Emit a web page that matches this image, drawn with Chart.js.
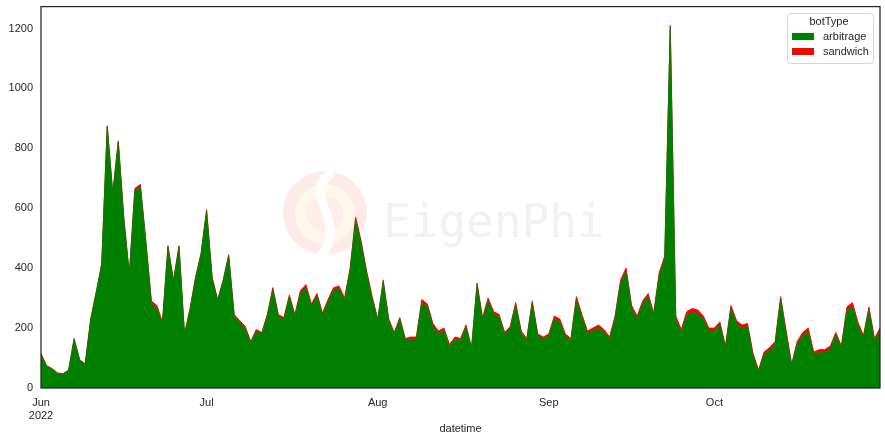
<!DOCTYPE html>
<html>
<head>
<meta charset="utf-8">
<script src="https://cdn.jsdelivr.net/npm/chart.js@4/dist/chart.umd.min.js"></script>
<style>
  html, body { margin: 0; padding: 0; background: #ffffff; }
  #wrap { width: 885px; height: 440px; }
</style>
</head>
<body>
<div id="wrap"><canvas id="c" width="885" height="440"></canvas></div>
<script>
// ---- data ----
const startDate = '2022-06-01';
const dayCount = 153; // Jun 1 .. Oct 31 2022
const monthTickLabels = { '2022-06-01': ['Jun', '2022'], '2022-07-01': 'Jul', '2022-08-01': 'Aug', '2022-09-01': 'Sep', '2022-10-01': 'Oct' };
const yTicks = [0, 200, 400, 600, 800, 1000, 1200];

const arbitrage = [
  // Jun
  113,73,63,48,46,58,162,93,78,227,317,411,870,646,820,565,376,657,672,484,282,265,212,469,355,469,177,261,365,445,
  // Jul
  590,366,291,355,440,239,219,197,149,189,180,239,327,239,229,302,239,315,335,272,307,244,287,327,330,292,390,558,480,382,297,
  // Aug
  224,352,224,179,229,159,162,162,283,270,207,180,192,139,162,157,202,129,340,227,290,245,237,179,197,275,182,159,282,172,164,
  // Sep
  174,230,220,172,157,293,235,182,190,200,187,162,230,348,388,265,230,280,305,242,375,430,1198,228,185,243,251,248,230,190,
  // Oct
  190,210,132,263,215,198,205,107,54,112,125,145,293,180,74,145,173,188,112,118,118,130,177,132,256,271,210,167,258,157,190
];
const sandwich = [
  2,2,2,2,2,2,3,2,2,3,3,4,5,4,5,5,4,8,8,6,8,10,8,6,5,6,3,4,5,5,
  5,4,4,5,5,6,6,8,6,6,5,6,8,6,6,8,6,10,10,8,8,6,8,8,10,8,10,12,10,8,8,
  6,8,6,6,6,6,8,8,12,10,8,10,8,6,8,8,8,6,10,8,10,10,8,6,8,10,8,6,8,8,6,
  6,10,10,8,8,12,10,8,10,10,8,8,10,12,12,10,10,10,10,8,10,10,12,12,10,12,14,12,10,10,
  10,10,8,12,10,12,10,8,6,8,10,10,12,10,6,10,12,12,8,10,10,10,8,8,14,14,10,8,12,8,10
];

// categories (daily dates)
const categories = [];
{
  const d0 = new Date(startDate + 'T00:00:00Z');
  for (let i = 0; i < dayCount; i++) {
    const d = new Date(d0.getTime() + i * 86400000);
    categories.push(d.toISOString().slice(0, 10));
  }
}

const FONT = "'Liberation Sans', Arial, sans-serif";
const TXT = '#262626';

const watermark = {
  id: 'watermark',
  beforeDatasetsDraw(chart) {
    const ctx = chart.ctx;
    ctx.save();
    // logo
    ctx.beginPath(); ctx.arc(325, 213, 42, 0, Math.PI * 2); ctx.fillStyle = '#fdebe9'; ctx.fill();
    ctx.beginPath(); ctx.arc(325, 214, 30, 0, Math.PI * 2); ctx.fillStyle = '#fff7ec'; ctx.fill();
    ctx.beginPath(); ctx.arc(325, 214, 18, 0, Math.PI * 2); ctx.fillStyle = '#fdeeec'; ctx.fill();
    ctx.beginPath();
    ctx.moveTo(330, 174);
    ctx.bezierCurveTo(300, 196, 350, 222, 321, 256);
    ctx.strokeStyle = '#ffffff'; ctx.lineWidth = 9; ctx.lineCap = 'round'; ctx.stroke();
    // text
    ctx.font = "46px 'DejaVu Sans Mono', monospace";
    ctx.fillStyle = '#f1f1f4';
    ctx.textBaseline = 'alphabetic';
    ctx.textAlign = 'left';
    ctx.fillText('EigenPhi', 383, 237);
    ctx.restore();
  }
};

const frameAndLegend = {
  id: 'frameAndLegend',
  afterDraw(chart) {
    const ctx = chart.ctx;
    const a = chart.chartArea;
    ctx.save();
    ctx.strokeStyle = TXT;
    ctx.lineWidth = 1.25;
    ctx.strokeRect(a.left, a.top, a.right - a.left, a.bottom - a.top);
    // legend box
    const x = 787.5, y = 13.5, w = 86, h = 50, r = 3;
    ctx.beginPath();
    ctx.moveTo(x + r, y); ctx.lineTo(x + w - r, y); ctx.quadraticCurveTo(x + w, y, x + w, y + r);
    ctx.lineTo(x + w, y + h - r); ctx.quadraticCurveTo(x + w, y + h, x + w - r, y + h);
    ctx.lineTo(x + r, y + h); ctx.quadraticCurveTo(x, y + h, x, y + h - r);
    ctx.lineTo(x, y + r); ctx.quadraticCurveTo(x, y, x + r, y);
    ctx.closePath();
    ctx.fillStyle = 'rgba(255,255,255,0.85)'; ctx.fill();
    ctx.strokeStyle = '#d6d6d6'; ctx.lineWidth = 1; ctx.stroke();
    ctx.font = '11px ' + FONT;
    ctx.fillStyle = TXT;
    ctx.textAlign = 'center'; ctx.textBaseline = 'middle';
    ctx.fillText('botType', 829, 22);
    ctx.fillStyle = '#008000'; ctx.fillRect(792, 33, 22, 7);
    ctx.fillStyle = '#ff0000'; ctx.fillRect(792, 48, 22, 7);
    ctx.fillStyle = TXT; ctx.textAlign = 'left';
    ctx.fillText('arbitrage', 823, 37);
    ctx.fillText('sandwich', 823, 52);
    ctx.restore();
  }
};

new Chart(document.getElementById('c'), {
  type: 'line',
  data: {
    labels: categories,
    datasets: [
      { label: 'arbitrage', data: arbitrage, backgroundColor: '#008000', borderColor: '#008000', fill: 'origin', borderWidth: 1, pointRadius: 0, tension: 0 },
      { label: 'sandwich', data: sandwich, backgroundColor: '#ff0000', borderColor: '#ff0000', fill: '-1', borderWidth: 1, pointRadius: 0, tension: 0 }
    ]
  },
  options: {
    responsive: false,
    animation: false,
    layout: { padding: { left: 0, right: 5, top: 0, bottom: 4 } },
    plugins: { legend: { display: false }, tooltip: { enabled: false } },
    elements: { line: { borderJoinStyle: 'miter' } },
    scales: {
      x: {
        type: 'category',
        offset: false,
        grid: { display: false },
        border: { display: false },
        ticks: {
          autoSkip: false, maxRotation: 0, minRotation: 0, padding: 0,
          color: TXT, font: { family: FONT, size: 11 }, lineHeight: 1.1,
          callback(v) { const l = this.getLabelForValue(v); return monthTickLabels[l] !== undefined ? monthTickLabels[l] : null; }
        },
        title: { display: true, text: 'datetime', color: TXT, font: { family: FONT, size: 11 }, padding: { top: 12, bottom: 0 } },
        afterFit(s) { s.height = 48; }
      },
      y: {
        stacked: true,
        min: 0, max: 1273,
        grid: { display: false },
        border: { display: false },
        afterBuildTicks(s) { s.ticks = yTicks.map(v => ({ value: v })); },
        ticks: { padding: 0, color: TXT, font: { family: FONT, size: 11 }, callback: v => String(v) },
        afterFit(s) { s.width = 41; }
      }
    }
  },
  plugins: [watermark, frameAndLegend]
});
</script>
</body>
</html>
